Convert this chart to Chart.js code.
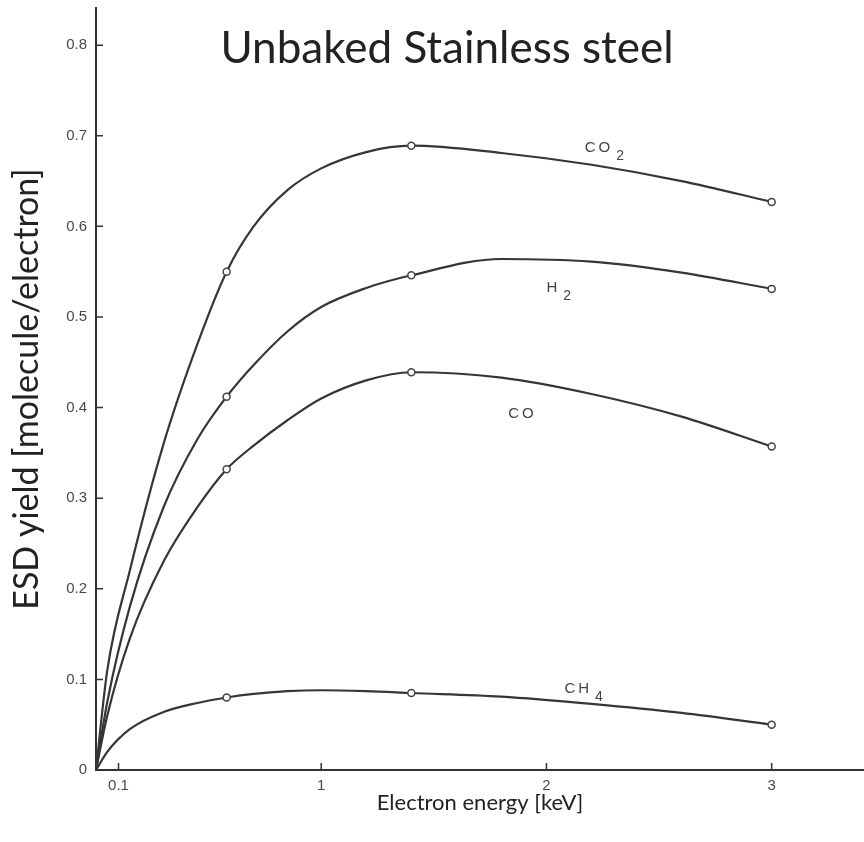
<!DOCTYPE html>
<html>
<head>
<meta charset="utf-8">
<title>Unbaked Stainless steel</title>
<script src="https://cdn.jsdelivr.net/npm/chart.js"></script>
<style>
  html, body { margin: 0; padding: 0; background: #fff; }
  #wrap { width: 864px; height: 842px; position: relative; }
</style>
</head>
<body>
<div id="wrap"><canvas id="esdChart"></canvas></div>
<script>
// ESD yield vs electron energy
const markerEnergy = [0.58, 1.4, 3.0];
const co2Markers = [0.55, 0.689, 0.627];
const h2Markers = [0.412, 0.546, 0.531];
const coMarkers = [0.332, 0.439, 0.357];
const ch4Markers = [0.08, 0.085, 0.05];

// points (keV)
const curveEnergy = [0, 0.05, 0.15, 0.3, 0.45, 0.58, 0.7, 0.85, 1.0, 1.2, 1.4, 1.8, 2.2, 2.6, 3.0];
const co2Curve = [0, 0.11, 0.22, 0.36, 0.47, 0.55, 0.6, 0.64, 0.664, 0.682, 0.689, 0.681, 0.668, 0.65, 0.627];
const h2Curve = [0, 0.075, 0.18, 0.29, 0.365, 0.412, 0.447, 0.484, 0.511, 0.532, 0.546, 0.564, 0.561, 0.549, 0.531];
const coCurve = [0, 0.06, 0.145, 0.23, 0.29, 0.332, 0.358, 0.386, 0.41, 0.43, 0.439, 0.433, 0.415, 0.39, 0.357];
const ch4Curve = [0, 0.02, 0.045, 0.064, 0.074, 0.08, 0.084, 0.087, 0.088, 0.087, 0.085, 0.081, 0.073, 0.063, 0.05];

const xTicks = [0.1, 1, 2, 3];
const yTicks = [0, 0.1, 0.2, 0.3, 0.4, 0.5, 0.6, 0.7, 0.8];

// curve labels (chemical formula + subscript), anchored in data units
const gasLabels = [
  { text: 'CO', sub: '2', x: 2.17, y: 0.682 },
  { text: 'H', sub: '2', x: 2.0, y: 0.528 },
  { text: 'CO', sub: '', x: 1.83, y: 0.389 },
  { text: 'CH', sub: '4', x: 2.08, y: 0.085 }
];

const toPoints = (xs, ys) => xs.map((x, i) => ({ x: x, y: ys[i] }));

function curveSet(values) {
  return {
    data: toPoints(curveEnergy, values),
    showLine: true,
    cubicInterpolationMode: 'monotone',
    borderColor: '#363636',
    borderWidth: 2.2,
    pointRadius: 0,
    order: 1
  };
}

function markerSet(values) {
  return {
    data: toPoints(markerEnergy, values),
    showLine: false,
    pointRadius: 3.5,
    pointBackgroundColor: '#fff',
    pointBorderColor: '#444',
    pointBorderWidth: 1.5,
    order: 0
  };
}

// inward tick marks, curve labels and the big title
const figureExtras = {
  id: 'figureExtras',
  afterDraw(chart) {
    const { ctx, chartArea, scales: { x, y } } = chart;
    ctx.save();
    ctx.strokeStyle = '#333';
    ctx.lineWidth = 1.5;
    ctx.beginPath();
    yTicks.forEach(v => {
      const py = y.getPixelForValue(v);
      ctx.moveTo(chartArea.left, py);
      ctx.lineTo(chartArea.left + 7, py);
    });
    xTicks.forEach(v => {
      const px = x.getPixelForValue(v);
      ctx.moveTo(px, chartArea.bottom);
      ctx.lineTo(px, chartArea.bottom - 7);
    });
    ctx.stroke();

    ctx.fillStyle = '#444';
    ctx.textBaseline = 'alphabetic';
    ctx.textAlign = 'left';
    ctx.letterSpacing = '3px';
    gasLabels.forEach(l => {
      const px = x.getPixelForValue(l.x);
      const py = y.getPixelForValue(l.y);
      ctx.font = '15px "Liberation Sans", sans-serif';
      ctx.fillText(l.text, px, py);
      if (l.sub) {
        const w = ctx.measureText(l.text).width;
        ctx.font = '14px "Liberation Sans", sans-serif';
        ctx.fillText(l.sub, px + w + 3, py + 8);
      }
    });

    ctx.letterSpacing = '0px';
    ctx.fillStyle = '#222';
    ctx.textAlign = 'center';
    ctx.font = '44px Lato, sans-serif';
    ctx.fillText('Unbaked Stainless steel', chart.width / 2 + 15, 63);
    ctx.restore();
  }
};

const tickFont = { family: '"Liberation Sans", sans-serif', size: 15 };

new Chart(document.getElementById('esdChart'), {
  type: 'scatter',
  data: {
    datasets: [
      markerSet(co2Markers), markerSet(h2Markers), markerSet(coMarkers), markerSet(ch4Markers),
      curveSet(co2Curve), curveSet(h2Curve), curveSet(coCurve), curveSet(ch4Curve)
    ]
  },
  options: {
    responsive: true,
    maintainAspectRatio: false,
    animation: false,
    layout: { autoPadding: false, padding: { top: 8, right: 0, bottom: 0, left: 0 } },
    plugins: { legend: { display: false }, tooltip: { enabled: false } },
    scales: {
      x: {
        type: 'linear',
        min: 0,
        max: 3.41,
        afterFit: s => { s.height = 72; s.paddingLeft = 0; s.paddingRight = 0; },
        afterBuildTicks: s => { s.ticks = xTicks.map(v => ({ value: v })); },
        grid: { display: false, drawTicks: false },
        border: { display: true, color: '#333', width: 2 },
        ticks: { autoSkip: false, maxRotation: 0, padding: 7, color: '#4a4a4a', font: tickFont, callback: v => String(v) },
        title: {
          display: true,
          text: 'Electron energy [keV]',
          color: '#222',
          font: { family: 'Lato, sans-serif', size: 22 },
          padding: { top: 0, bottom: 26 }
        }
      },
      y: {
        type: 'linear',
        min: 0,
        max: 0.841,
        afterFit: s => { s.width = 96; s.paddingTop = 0; s.paddingBottom = 0; },
        afterBuildTicks: s => { s.ticks = yTicks.map(v => ({ value: v })); },
        grid: { display: false, drawTicks: false },
        border: { display: true, color: '#333', width: 2 },
        ticks: { autoSkip: false, padding: 9, color: '#4a4a4a', font: tickFont, callback: v => v === 0 ? '0' : v.toFixed(1) },
        title: {
          display: true,
          text: 'ESD yield [molecule/electron]',
          color: '#222',
          font: { family: 'Lato, sans-serif', size: 34 },
          padding: { top: 7, bottom: 0 }
        }
      }
    }
  },
  plugins: [figureExtras]
});
</script>
</body>
</html>
